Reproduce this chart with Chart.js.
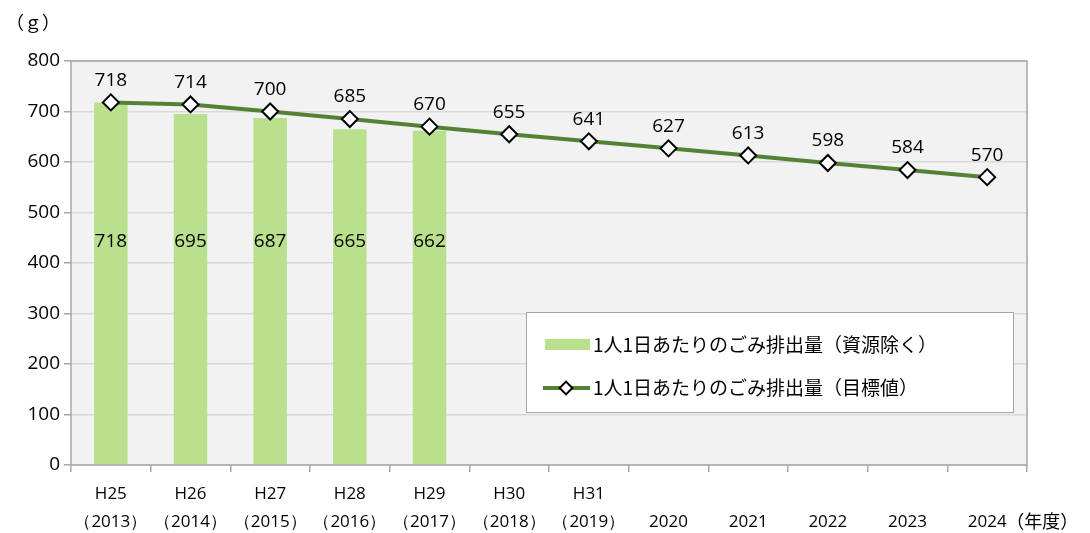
<!DOCTYPE html>
<html><head><meta charset="utf-8">
<script src="https://cdn.jsdelivr.net/npm/chart.js@4/dist/chart.umd.min.js"></script>
<style>html,body{margin:0;padding:0;background:#fff;}#wrap{width:1090px;height:533px;position:relative;}</style>
</head><body><div id="wrap"><canvas id="c" width="1090" height="533"></canvas></div>
<script>
const categories = [["H25","（2013）"],["H26","（2014）"],["H27","（2015）"],["H28","（2016）"],["H29","（2017）"],["H30","（2018）"],["H31","（2019）"],["","2020"],["","2021"],["","2022"],["","2023"],["","2024"]];
const actualValues = [718,695,687,665,662,null,null,null,null,null,null,null];
const targetValues = [718,714,700,685,670,655,641,627,613,598,584,570];
const yTicks = [0,100,200,300,400,500,600,700,800];
const seriesNames = ["1人1日あたりのごみ排出量（資源除く）","1人1日あたりのごみ排出量（目標値）"];
const unitLabel = "（ｇ）";
const xUnitLabel = "（年度）";

const NUM_FONT = "'Open Sans','Noto Sans',sans-serif";
const JP_FONT = "'Noto Sans CJK JP','Noto Sans',sans-serif";
const BAR_COLOR = '#b9e08d';
const LINE_COLOR = '#548235';

const decor = {
  id:'decor',
  beforeDraw(chart){
    const {ctx, chartArea:a} = chart;
    ctx.save();
    ctx.fillStyle = '#f2f2f2';
    ctx.fillRect(a.left, a.top, a.right-a.left, a.bottom-a.top);
    ctx.restore();
  },
  afterDatasetsDraw(chart){
    const {ctx, chartArea:a, scales} = chart;
    ctx.save();
    ctx.strokeStyle = '#a6a6a6'; ctx.lineWidth = 1.5;
    ctx.strokeRect(a.left, a.top, a.right-a.left, a.bottom-a.top);
    ctx.fillStyle = '#000';
    ctx.font = "19px " + NUM_FONT;
    ctx.textAlign = 'center'; ctx.textBaseline = 'middle';
    const barMeta = chart.getDatasetMeta(0);
    barMeta.data.forEach((el,i)=>{
      const v = actualValues[i]; if (v==null) return;
      ctx.fillText(String(v), el.x, scales.y.getPixelForValue(442));
    });
    const lineMeta = chart.getDatasetMeta(1);
    lineMeta.data.forEach((el,i)=>{
      ctx.fillText(String(targetValues[i]), el.x, el.y - 22);
    });
    ctx.font = "18px " + JP_FONT;
    ctx.textAlign = 'left';
    ctx.fillText(unitLabel, 6, 22);
    const lastX = scales.x.getPixelForValue(11);
    ctx.fillText(xUnitLabel, lastX + 19, 521);
    // legend
    const lx=526, ly=312, lw=487, lh=100;
    ctx.fillStyle='#fff'; ctx.fillRect(lx,ly,lw,lh);
    ctx.strokeStyle='#a6a6a6'; ctx.lineWidth=1; ctx.strokeRect(lx+0.5,ly+0.5,lw,lh);
    ctx.fillStyle = BAR_COLOR; ctx.fillRect(545,339,45,11);
    ctx.strokeStyle = LINE_COLOR; ctx.lineWidth = 4;
    ctx.beginPath(); ctx.moveTo(543,388); ctx.lineTo(590,388); ctx.stroke();
    ctx.save(); ctx.translate(566,388); ctx.rotate(Math.PI/4);
    ctx.fillStyle='#fff'; ctx.strokeStyle='#000'; ctx.lineWidth=2;
    ctx.fillRect(-4.5,-4.5,9,9); ctx.strokeRect(-4.5,-4.5,9,9); ctx.restore();
    ctx.fillStyle='#000'; ctx.font = "19px " + JP_FONT; ctx.textAlign='left'; ctx.textBaseline='middle';
    ctx.fillText(seriesNames[0], 593, 345);
    ctx.fillText(seriesNames[1], 593, 388);
    ctx.restore();
  }
};

new Chart(document.getElementById('c'), {
  data:{
    labels: categories,
    datasets:[
      {type:'bar', label:seriesNames[0], data:actualValues, backgroundColor:BAR_COLOR, borderWidth:0,
       categoryPercentage:1, barPercentage:0.42, order:2},
      {type:'line', label:seriesNames[1], data:targetValues, borderColor:LINE_COLOR, borderWidth:4,
       pointStyle:'rectRot', pointRadius:8, pointHoverRadius:8, pointBackgroundColor:'#fff',
       pointBorderColor:'#000', pointBorderWidth:2, tension:0, order:1}
    ]
  },
  options:{
    responsive:false, animation:false, devicePixelRatio:1,
    layout:{padding:{left:0, right:63, top:61, bottom:0}},
    plugins:{legend:{display:false}, tooltip:{enabled:false}},
    scales:{
      x:{
        offset:true,
        grid:{offset:true, drawOnChartArea:false, color:'#a6a6a6', tickLength:7, lineWidth:1.5},
        border:{display:false},
        ticks:{color:'#000', font:{family:NUM_FONT, size:17, lineHeight:1.6}, maxRotation:0, autoSkip:false, padding:9},
        afterFit(s){ s.height = 68; }
      },
      y:{
        min:0, max:800,
        afterBuildTicks(s){ s.ticks = yTicks.map(v=>({value:v})); },
        grid:{color:'#d9d9d9', lineWidth:1.5, tickLength:7, tickColor:'#a6a6a6'},
        border:{display:false},
        ticks:{color:'#000', font:{family:NUM_FONT, size:19}, padding:4},
        afterFit(s){ s.width = 71; }
      }
    }
  },
  plugins:[decor]
});
</script></body></html>
